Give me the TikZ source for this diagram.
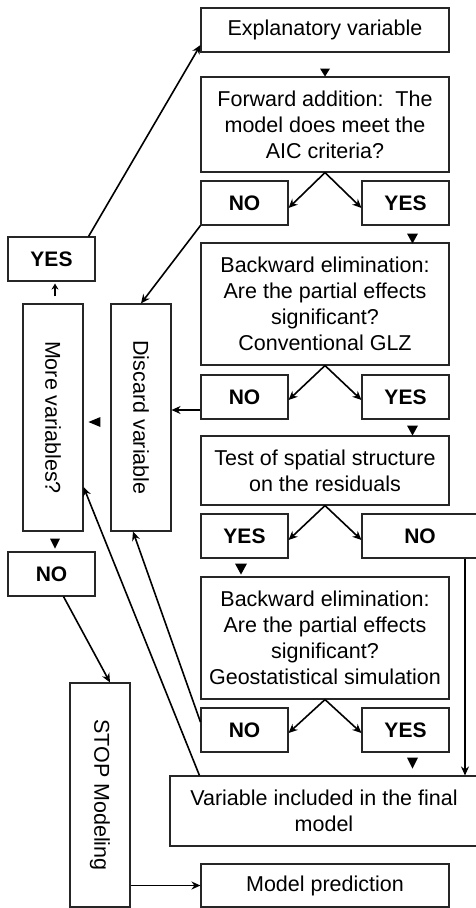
\documentclass[tikz,border=0pt]{standalone}
\usepackage{fontspec}
\setmainfont{Liberation Sans}
\usepackage{graphicx}
\usetikzlibrary{arrows.meta,calc}
\begin{document}
\begin{tikzpicture}[x=1pt,y=-1pt,
  box/.style={draw=black!85, line width=1.1pt, inner sep=0pt, align=center, font=\fontsize{21.5}{26}\selectfont},
  ans/.style={box, font=\fontsize{21}{25}\selectfont\bfseries, minimum width=87pt, minimum height=44pt},
  wide/.style={box, minimum width=248pt},
  tall/.style={box, minimum width=60pt},
  conn/.style={line width=1.6pt, -{Stealth[length=9pt,width=8pt]}},
  small/.style={line width=1.6pt, -{Stealth[length=6pt,width=7pt]}},
  tri/.style={fill=black}
]
\useasboundingbox (0,0) rectangle (476,908);

% main column
\node[wide, minimum height=44pt] (expl) at (325,30) {Explanatory variable};
\node[wide, minimum height=95pt] (fwd) at (325,124.5) {Forward addition:\ \ The\\model does meet the\\AIC criteria?};
\node[ans] (no1) at (244.5,203) {NO};
\node[ans] (yes1) at (405.5,203) {YES};
\node[wide, minimum height=122pt] (back1) at (325,304) {Backward elimination:\\Are the partial effects\\significant?\\Conventional GLZ};
\node[ans] (no2) at (244.5,397) {NO};
\node[ans] (yes2) at (405.5,397) {YES};
\node[wide, minimum height=69pt] (test) at (325,470.5) {Test of spatial structure\\on the residuals};
\node[ans] (yes3) at (244.5,536) {YES};
\node[ans, minimum width=116pt] (no3) at (420,536) {NO};
\node[wide, minimum height=122pt] (back2) at (325,638) {Backward elimination:\\Are the partial effects\\significant?\\Geostatistical simulation};
\node[ans] (no4) at (244.5,730) {NO};
\node[ans] (yes4) at (405.5,730) {YES};
\node[box, minimum width=308pt, minimum height=70pt] (incl) at (324,811) {Variable included in the final\\model};
\node[wide, minimum height=43pt] (pred) at (325,885.5) {Model prediction};

% left column
\node[ans] (yesL) at (51.5,259) {YES};
\node[tall, minimum height=227pt] (more) at (53,417.5) {\rotatebox{-90}{More variables?}};
\node[tall, minimum height=227pt] (disc) at (141,417.5) {\rotatebox{-90}{Discard variable}};
\node[ans] (noL) at (51.5,574) {NO};
\node[tall, minimum height=224pt] (stop) at (100,795) {\rotatebox{-90}{STOP Modeling}};

% branching arrows
\draw[conn] (fwd.south) -- ($(no1.east)+(0,5)$);
\draw[conn] (fwd.south) -- ($(yes1.west)+(0,5)$);
\draw[conn] (back1.south) -- ($(no2.east)+(0,3)$);
\draw[conn] (back1.south) -- ($(yes2.west)+(0,3)$);
\draw[conn] (test.south) -- ($(yes3.east)+(0,4)$);
\draw[conn] (test.south) -- ($(no3.west)+(0,4)$);
\draw[conn] (back2.south) -- ($(no4.east)+(0,3)$);
\draw[conn] (back2.south) -- ($(yes4.west)+(0,3)$);

% other connectors
\draw[conn] (no1.south west) -- (disc.north);
\draw[conn] ($(no2.west)+(0,13)$) -- ($(disc.east)+(0,-7.5)$);
\coordinate (n3d) at ($(no3.south)+(45,0)$);
\draw[conn] (n3d) -- (n3d |- incl.north);
\draw[conn] ($(yesL.north east)+(-7,0)$) -- ($(expl.west)+(0,15)$);
\draw[conn] ($(noL.south)+(12,0)$) -- ($(stop.north)+(10,0)$);
\draw[conn] (stop.east |- pred.west) -- (pred.west);
\draw[conn] ($(incl.north west)+(30,0)$) -- ($(more.east)+(0,69.5)$);
\draw[conn] ($(no4.west)+(0,-8)$) -- ($(disc.south)+(-8,0)$);
\draw[small] ($(more.north)+(2,-7)$) -- ($(yesL.south)+(3.5,2)$);

% stemless arrowheads
\fill[tri] ($(expl.south)+(-5,16)$) -- ++(10,0) -- ++(-5,8) -- cycle;
\fill[tri] ($(yes1.south)+(1.5,8)$) -- ++(11,0) -- ++(-5.5,10) -- cycle;
\fill[tri] ($(yes2.south)+(1.5,6)$) -- ++(11,0) -- ++(-5.5,10) -- cycle;
\fill[tri] ($(yes3.south)+(-9.5,5)$) -- ++(12,0) -- ++(-6,11) -- cycle;
\fill[tri] ($(yes4.south)+(1.5,5)$) -- ++(11,0) -- ++(-5.5,11) -- cycle;
\fill[tri] ($(more.south)+(-3,7)$) -- ++(10,0) -- ++(-5,10) -- cycle;
\fill[tri] ($(disc.west)+(-10,-0.5)$) -- ++(0,10) -- ++(-12,-5) -- cycle;
\end{tikzpicture}
\end{document}
